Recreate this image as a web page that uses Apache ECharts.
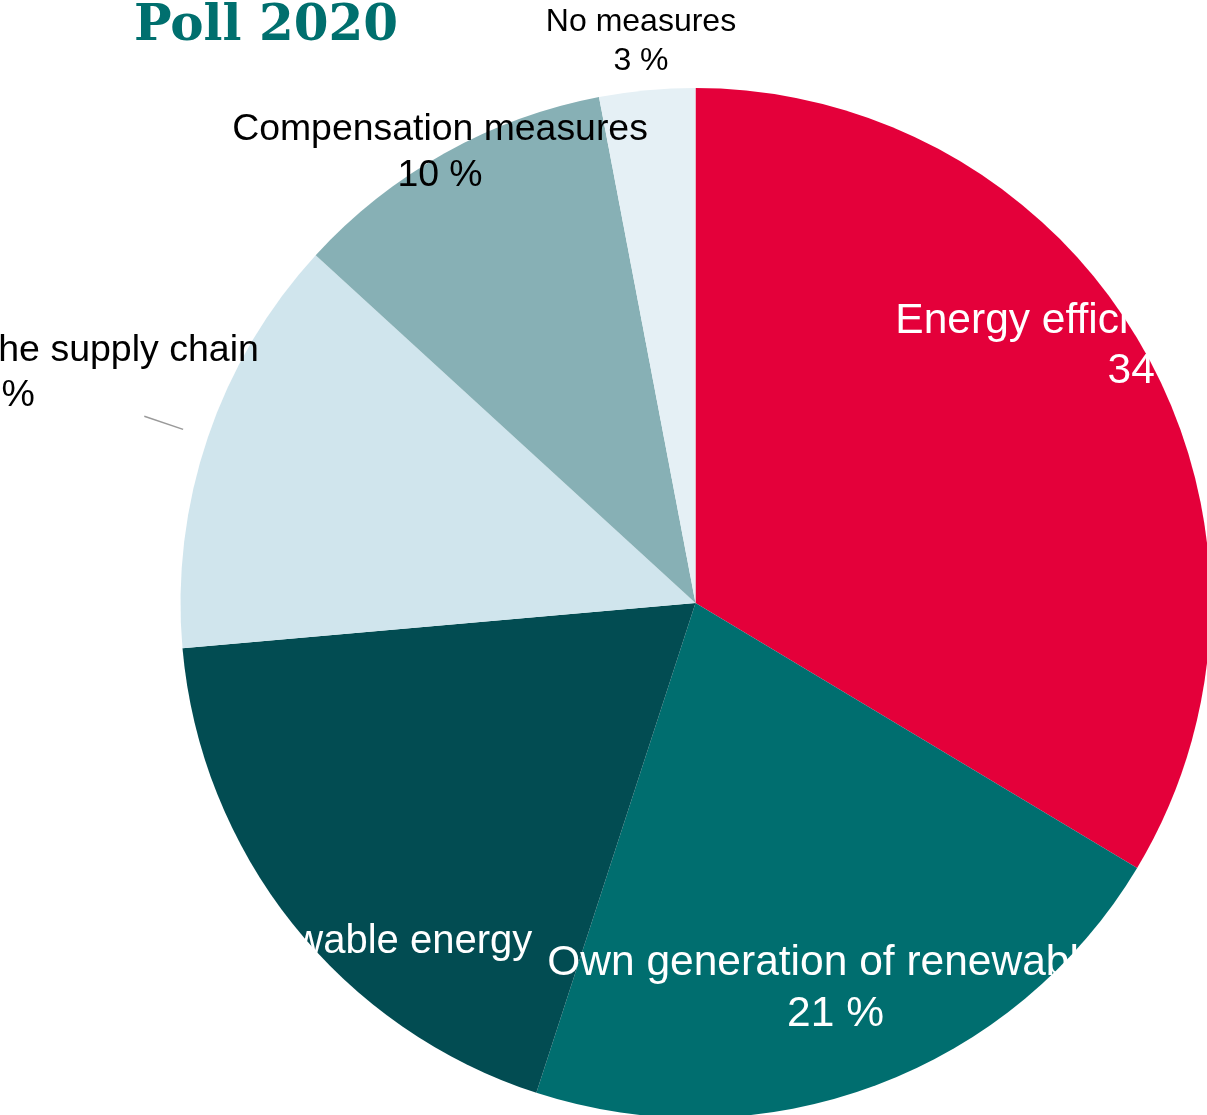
<!DOCTYPE html>
<html><head><meta charset="utf-8">
<script src="https://cdn.jsdelivr.net/npm/echarts@6/dist/echarts.min.js"></script>
<style>html,body{margin:0;padding:0;background:#fff}#c{width:1207px;height:1115px}</style>
</head><body><div id="c"></div>
<script>
// ---- data ----
const chartTitle = 'Poll 2020';
const categories = [
  'Energy efficiency measures',
  'Own generation of renewables',
  'Purchase of renewable energy',
  'Engagement in the supply chain',
  'Compensation measures',
  'No measures'
];
const shares = [33.6, 21.4, 18.6, 13.2, 10.2, 3.0];
const valueSuffix = ' %';

// ---- styles ----
const sliceColors = ['#E4003A', '#006E6F', '#024C52', '#D0E5ED', '#87B0B5', '#E5F0F5'];
const labelStyles = [
  { x: 1156,  y: 346,   size: 42.5, lh: 50, color: '#ffffff' },
  { x: 835.5, y: 988.5, size: 42.5, lh: 51, color: '#ffffff' },
  { x: 261,   y: 966,   size: 40,   lh: 48, color: '#ffffff' },
  { x: -8,    y: 373.5, size: 37.5, lh: 45, color: '#000000' },
  { x: 440,   y: 152.5, size: 37.4, lh: 46, color: '#000000' },
  { x: 641,   y: 42,    size: 32,   lh: 39, color: '#000000' }
];
const leaderIndex = 3;
const leaderGap = 26, leaderLen = 67;

const chart = echarts.init(document.getElementById('c'), null, { renderer: 'canvas' });

const data = categories.map((name, i) => ({
  name: name,
  value: shares[i],
  itemStyle: { color: sliceColors[i] },
  label: {
    color: labelStyles[i].color,
    fontSize: labelStyles[i].size,
    lineHeight: labelStyles[i].lh
  },
  labelLine: {
    show: i === leaderIndex,
    length: leaderLen,
    length2: 0,
    lineStyle: { color: '#9a9a9a', width: 1.5 }
  }
}));

chart.setOption({
  animation: false,
  backgroundColor: '#ffffff',
  title: {
    text: chartTitle,
    left: 134,
    top: 2,
    padding: 0,
    textStyle: { fontFamily: 'DejaVu Serif', fontWeight: 'bold', fontSize: 50, color: '#006F6E' }
  },
  series: [{
    type: 'pie',
    left: 0, top: 0, right: 0, bottom: 0,
    center: [695.5, 603],
    radius: 515,
    startAngle: 90,
    clockwise: true,
    avoidLabelOverlap: false,
    itemStyle: { borderWidth: 0 },
    emphasis: { disabled: true },
    label: {
      show: true,
      position: 'outside',
      fontFamily: 'Liberation Sans',
      formatter: p => p.name + '\n' + Math.round(p.value) + valueSuffix
    },
    labelLayout: function (params) {
      const s = labelStyles[params.dataIndex];
      const out = { x: s.x, y: s.y, align: 'center', verticalAlign: 'middle' };
      if (params.dataIndex === leaderIndex && params.labelLinePoints) {
        const p0 = params.labelLinePoints[0], p1 = params.labelLinePoints[1];
        const t = leaderGap / leaderLen;
        const ps = [p0[0] + (p1[0] - p0[0]) * t, p0[1] + (p1[1] - p0[1]) * t];
        out.labelLinePoints = [ps, p1, p1];
      }
      return out;
    },
    data: data
  }]
});
</script>
</body></html>
